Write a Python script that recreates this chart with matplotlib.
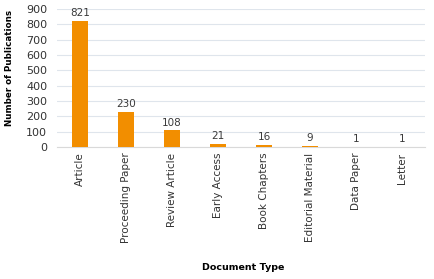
#! /usr/bin/env python3

import numpy as np
import matplotlib.pyplot as plt

doc_types = ['Article', 'Proceeding Paper', 'Review Article', 'Early Access',
             'Book Chapters', 'Editorial Material', 'Data Paper', 'Letter']
counts = [821, 230, 108, 21, 16, 9, 1, 1]


def plot_data(labels, values):
    fig = plt.figure(figsize=(4.34, 2.79), dpi=100)
    ax = fig.add_axes([57/434, 1 - 147/279, 368/434, 138/279])
    x = np.arange(len(labels))
    ax.bar(x, values, width=0.33, color='#f28e00', zorder=3)
    for xi, v in zip(x, values):
        ax.text(xi, v + 18, str(v), ha='center', va='bottom',
                fontsize=7.5, color='#3a3a3a')

    ax.set_xlim(-0.5, len(labels) - 0.5)
    ax.set_ylim(0, 900)
    ax.set_yticks(range(0, 901, 100))
    ax.yaxis.grid(True, color='#dfe5ec', linewidth=0.8, zorder=0)
    ax.set_xticks(x)
    ax.set_xticklabels(labels, rotation=90, fontsize=7.5, color='#333333')
    ax.tick_params(axis='y', labelsize=8, labelcolor='#333333', length=0, pad=7)
    ax.tick_params(axis='x', length=0, pad=4)
    for side in ['top', 'right', 'left']:
        ax.spines[side].set_visible(False)
    ax.spines['bottom'].set_color('#d9d9d9')
    ax.set_ylabel('Number of Publications', fontsize=6.3, fontweight='bold')
    ax.yaxis.set_label_coords(-0.117, 0.57)
    fig.text(243/434, 1 - 268/279, 'Document Type', ha='center', va='center',
             fontsize=6.8, fontweight='bold')
    fig.savefig('out.png', dpi=100)


def main():
    plot_data(doc_types, counts)


if __name__ == "__main__":
    main()
